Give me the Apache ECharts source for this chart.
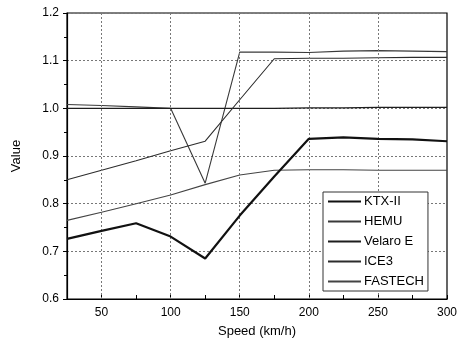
<!DOCTYPE html>
<html><head><meta charset="utf-8">
<script src="https://cdn.jsdelivr.net/npm/echarts@6/dist/echarts.min.js"></script>
<style>html,body{margin:0;padding:0;background:#fff}#c{width:461px;height:343px}</style>
</head><body><div id="c"></div>
<script>
const speeds = [25,50,75,100,125,150,175,200,225,250,275,300];
const seriesNames = ['KTX-II','HEMU','Velaro E','ICE3','FASTECH'];
const ktx2    = [0.726,0.743,0.759,0.731,0.685,0.775,0.857,0.936,0.939,0.936,0.935,0.931];
const hemu    = [1.008,1.006,1.003,1.000,0.843,1.118,1.118,1.117,1.120,1.121,1.120,1.119];
const velaroE = [1.000,1.000,1.000,1.000,1.000,1.000,1.000,1.001,1.001,1.002,1.002,1.002];
const ice3    = [0.850,0.870,0.890,0.911,0.931,1.018,1.104,1.105,1.105,1.106,1.107,1.107];
const fastech = [0.765,0.782,0.800,0.818,0.840,0.860,0.870,0.871,0.871,0.870,0.870,0.870];
const yTicks = [0.6,0.7,0.8,0.9,1.0,1.1,1.2];
const xTicks = [50,100,150,200,250,300];

const values = [ktx2,hemu,velaroE,ice3,fastech];
const widths = [2.2,1.1,1.4,1.1,1.1];
const colors = ['#111','#3a3a3a','#1e1e1e','#2c2c2c','#444'];
const font = 'Liberation Sans, Arial, sans-serif';

const chart = echarts.init(document.getElementById('c'), null, {renderer:'canvas'});
const gridLineStyle = {color:'#777',type:[2,2],width:1};
const series = seriesNames.map((n,i)=>({
  name:n,type:'line',symbol:'none',
  data:speeds.map((s,j)=>[s,values[i][j]]),
  lineStyle:{color:colors[i],width:widths[i]},
  itemStyle:{color:colors[i]},
  z:i===0?5:3
}));
// vertical grid lines at labelled x ticks
series[series.length-1].markLine = {
  silent:true,symbol:'none',label:{show:false},animation:false,
  lineStyle:gridLineStyle,
  emphasis:{disabled:true},
  data:xTicks.slice(0,-1).map(v=>({xAxis:v}))
};
chart.setOption({
  animation:false,
  backgroundColor:'#fff',
  grid:{left:67,right:14,top:13,bottom:44,show:true,borderColor:'#000',borderWidth:1.2},
  legend:{
    orient:'vertical',left:323,top:192,z:50,
    itemWidth:33,itemHeight:10,itemGap:7,
    padding:[3,4,3,4],
    borderColor:'#333',borderWidth:1,backgroundColor:'#fff',
    itemStyle:{opacity:0},
    textStyle:{fontFamily:font,fontSize:13,color:'#000',padding:[0,0,0,-2]},
    data:seriesNames
  },
  xAxis:[{
    type:'value',min:25,max:300,interval:25,
    axisLine:{show:true,onZero:false,lineStyle:{color:'#000',width:1.2}},
    name:'Speed (km/h)',nameLocation:'middle',nameGap:26,
    nameTextStyle:{fontFamily:font,fontSize:13,color:'#000'},
    axisLabel:{color:'#000',fontFamily:font,fontSize:12,margin:8,
      formatter:v=>xTicks.includes(v)?String(v):''},
    axisTick:{show:true,inside:true,length:4,lineStyle:{color:'#000'}},
    splitLine:{show:false},
  }],
  yAxis:[{
    type:'value',min:0.6,max:1.2,interval:0.1,
    axisLine:{show:true,onZero:false,lineStyle:{color:'#000',width:1.2}},
    name:'Value',nameLocation:'middle',nameGap:44,
    nameTextStyle:{fontFamily:font,fontSize:13,color:'#000'},
    axisLabel:{color:'#000',fontFamily:font,fontSize:12,margin:8,
      formatter:v=>v.toFixed(1)},
    axisTick:{show:true,inside:false,length:4,lineStyle:{color:'#000'}},
    minorTick:{show:true,splitNumber:2,length:3,lineStyle:{color:'#000'}},
    splitLine:{show:true,lineStyle:gridLineStyle},
  }],
  series
});
</script></body></html>
